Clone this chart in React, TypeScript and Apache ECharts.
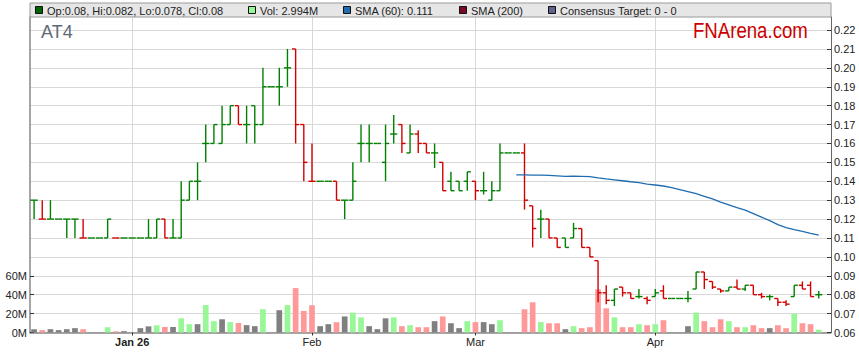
import React, { useEffect, useRef } from "react";
import * as echarts from "echarts";

// ---- calendar (weekdays shown on the axis) ----
const decDays = [16, 17, 18, 19, 22, 23, 24, 25, 26, 29, 30, 31];
const janDays = [1, 2, 5, 6, 7, 8, 9, 12, 13, 14, 15, 16, 19, 20, 21, 22, 23, 26, 27, 28, 29, 30];
const febDays = [2, 3, 4, 5, 6, 9, 10, 11, 12, 13, 16, 17, 18, 19, 20, 23, 24, 25, 26, 27];
const marDays = [2, 3, 4, 5, 6, 9, 10, 11, 12, 13, 16, 17, 18, 19, 20, 23, 24, 25, 26, 27, 30, 31];
const aprDays = [1, 2, 3, 6, 7, 8, 9, 10, 13, 14, 15, 16, 17, 20, 21, 22, 23, 24, 27, 28, 29];

// ---- OHLC ----
const opens = [
  0.13, 0.12, 0.12, 0.12, 0.12, 0.12, 0.11, 0.11, 0.11, 0.11,
  0.11, 0.11, 0.11, 0.11, 0.11, 0.11, 0.12, 0.11, 0.11, 0.13,
  0.14, 0.16, 0.16, 0.16, 0.17, 0.18, 0.17, 0.18, 0.17, 0.19,
  0.19, 0.20, 0.21, 0.17, 0.14, 0.14, 0.14, 0.14, 0.13, 0.13,
  0.16, 0.16, 0.16, 0.15, 0.165, 0.17, 0.155, 0.165, 0.16, 0.155,
  0.15, 0.14, 0.14, 0.14, 0.14, 0.135, 0.13, 0.135, 0.155, 0.155,
  0.155, 0.127, 0.12, 0.12, 0.11, 0.11, 0.11, 0.115, 0.105, 0.098,
  0.081, 0.077, 0.084, 0.081, 0.079, 0.078, 0.079, 0.082, 0.078, 0.078,
  0.078, 0.083, 0.092, 0.087, 0.083, 0.082, 0.084, 0.083, 0.085, 0.080,
  0.079, 0.078, 0.076, 0.079, 0.085, 0.085, 0.080,
];
const highs = [
  0.13, 0.13, 0.13, 0.12, 0.12, 0.12, 0.12, 0.11, 0.11, 0.12,
  0.11, 0.11, 0.11, 0.11, 0.12, 0.12, 0.12, 0.12, 0.14, 0.14,
  0.15, 0.17, 0.17, 0.18, 0.18, 0.18, 0.18, 0.18, 0.20, 0.19,
  0.20, 0.21, 0.21, 0.17, 0.16, 0.14, 0.14, 0.14, 0.13, 0.15,
  0.17, 0.17, 0.16, 0.17, 0.175, 0.17, 0.17, 0.167, 0.16, 0.16,
  0.15, 0.145, 0.14, 0.145, 0.14, 0.145, 0.14, 0.16, 0.155, 0.155,
  0.16, 0.127, 0.125, 0.12, 0.11, 0.11, 0.118, 0.115, 0.105, 0.098,
  0.085, 0.083, 0.084, 0.081, 0.083, 0.079, 0.083, 0.085, 0.078, 0.078,
  0.082, 0.092, 0.092, 0.087, 0.083, 0.084, 0.088, 0.085, 0.085, 0.081,
  0.080, 0.078, 0.077, 0.085, 0.087, 0.087, 0.082,
];
const lows = [
  0.12, 0.12, 0.12, 0.12, 0.11, 0.11, 0.11, 0.11, 0.11, 0.11,
  0.11, 0.11, 0.11, 0.11, 0.11, 0.11, 0.11, 0.11, 0.11, 0.13,
  0.13, 0.15, 0.16, 0.16, 0.17, 0.17, 0.16, 0.16, 0.17, 0.19,
  0.18, 0.19, 0.16, 0.14, 0.14, 0.14, 0.14, 0.13, 0.12, 0.13,
  0.15, 0.15, 0.16, 0.14, 0.16, 0.155, 0.155, 0.155, 0.155, 0.147,
  0.135, 0.135, 0.135, 0.135, 0.13, 0.133, 0.13, 0.135, 0.155, 0.155,
  0.125, 0.105, 0.11, 0.11, 0.105, 0.105, 0.11, 0.105, 0.10, 0.076,
  0.075, 0.074, 0.079, 0.078, 0.078, 0.075, 0.079, 0.078, 0.078, 0.078,
  0.076, 0.083, 0.083, 0.083, 0.081, 0.082, 0.083, 0.082, 0.080, 0.078,
  0.077, 0.074, 0.074, 0.079, 0.083, 0.079, 0.078,
];
const closes = [
  0.13, 0.12, 0.12, 0.12, 0.12, 0.12, 0.11, 0.11, 0.11, 0.12,
  0.11, 0.11, 0.11, 0.11, 0.11, 0.12, 0.11, 0.11, 0.13, 0.14,
  0.14, 0.16, 0.17, 0.17, 0.18, 0.17, 0.17, 0.17, 0.19, 0.19,
  0.19, 0.20, 0.17, 0.15, 0.14, 0.14, 0.14, 0.13, 0.13, 0.14,
  0.16, 0.16, 0.16, 0.16, 0.165, 0.16, 0.165, 0.16, 0.155, 0.155,
  0.135, 0.135, 0.135, 0.145, 0.135, 0.135, 0.135, 0.155, 0.155, 0.155,
  0.13, 0.115, 0.12, 0.11, 0.105, 0.105, 0.115, 0.105, 0.10, 0.081,
  0.077, 0.083, 0.081, 0.078, 0.079, 0.077, 0.081, 0.078, 0.078, 0.078,
  0.078, 0.092, 0.088, 0.084, 0.082, 0.084, 0.083, 0.085, 0.080, 0.079,
  0.079, 0.076, 0.075, 0.085, 0.083, 0.079, 0.080,
];
// volume in millions of shares
const volumes = [
  3.5, 2.5, 3.5, 2.5, 3.5, 4.6, 3.5, 0, 0, 5.6,
  1.2, 1.4, 0, 4.6, 6.5, 7.6, 5.8, 5.8, 15, 8.8,
  8.8, 29, 12, 14, 11, 10, 7.8, 6.7, 24.7, 0,
  23.6, 29, 47, 22.8, 28.8, 6.7, 8.8, 10.9, 17, 21,
  16, 6.7, 3.5, 15, 16, 6.7, 7.7, 5.6, 5.6, 12,
  17, 9.8, 4.6, 12, 11, 11, 8.8, 13, 0, 0,
  24.6, 32, 11, 9.8, 9.8, 3.5, 6.7, 4.6, 5.6, 45.6,
  25.6, 16, 5.6, 5.6, 8.8, 7.7, 8.8, 13, 0, 0,
  6.7, 21, 12, 5.6, 14, 12, 5.6, 5.6, 7.7, 4.6,
  4.6, 7.7, 4.6, 20, 9.8, 8.8, 2.994,
];

const priceTicks = [0.06, 0.07, 0.08, 0.09, 0.1, 0.11, 0.12, 0.13, 0.14, 0.15, 0.16, 0.17, 0.18, 0.19, 0.2, 0.21, 0.22];
const volumeTicks = [0, 20, 40, 60];
const monthNames: Record<string, string> = { "01": "Jan", "02": "Feb", "03": "Mar", "04": "Apr", "12": "Dec" };
const smaPeriod = 60;
const ticker = "AT4";

const pad = (d: number) => (d < 10 ? "0" + d : "" + d);
const dates = [
  ...decDays.map((d) => "2025-12-" + pad(d)),
  ...janDays.map((d) => "2026-01-" + pad(d)),
  ...febDays.map((d) => "2026-02-" + pad(d)),
  ...marDays.map((d) => "2026-03-" + pad(d)),
  ...aprDays.map((d) => "2026-04-" + pad(d)),
];
const categories = [...dates, ""]; // one empty slot at the right edge

const GREEN = "#008000";
const RED = "#d40000";
const FONT = "Liberation Sans, Arial, sans-serif";

export default function App() {
  const ref = useRef<HTMLDivElement>(null);

  useEffect(() => {
    if (!ref.current) return;
    const chart = echarts.init(ref.current, null, { renderer: "svg" });

    const dirs = closes.map((c, i) => (i === 0 ? 0 : c < closes[i - 1] ? -1 : c > closes[i - 1] ? 1 : 0));
    const ohlc = dates.map((_, i) => [i, opens[i], closes[i], lows[i], highs[i], dirs[i]]);
    const sma = closes.map((_, i) => {
      if (i < smaPeriod - 1) return null;
      let s = 0;
      for (let k = i - smaPeriod + 1; k <= i; k++) s += closes[k];
      return s / smaPeriod;
    });
    const volData = volumes.map((v, i) => ({
      value: v,
      itemStyle: { color: dirs[i] > 0 ? "#98f898" : dirs[i] < 0 ? "#ff9999" : "#808080" },
    }));

    const last = dates.length - 1;
    const isMonthStart = (index: number) =>
      index > 0 && index < dates.length && dates[index].slice(0, 7) !== dates[index - 1].slice(0, 7);

    const legendItems = [
      { color: "#006400", text: `Op:${opens[last]}, Hi:${highs[last]}, Lo:${lows[last]}, Cl:${closes[last]}`, x: 35 },
      { color: "#98f898", text: `Vol: ${volumes[last]}M`, x: 248 },
      { color: "#1f6db0", text: `SMA (60): ${(sma[last] as number).toFixed(3)}`, x: 343 },
      { color: "#7a0a28", text: "SMA (200)", x: 459 },
      { color: "#62628e", text: "Consensus Target: 0 - 0", x: 548 },
    ];

    const graphic: any[] = [
      {
        type: "rect",
        shape: { x: 30, y: 3, width: 801, height: 14 },
        style: { fill: "#e6e6e6", stroke: "#9a9a9a", lineWidth: 1 },
        z: 10,
      },
    ];
    legendItems.forEach((it) => {
      graphic.push({
        type: "rect",
        shape: { x: it.x + 0.5, y: 6.5, width: 7, height: 7 },
        style: { fill: it.color, stroke: "#111", lineWidth: 1 },
        z: 11,
      });
      graphic.push({
        type: "text",
        x: it.x + 12,
        y: 10.5,
        style: { text: it.text, fill: "#222", font: `11px ${FONT}`, verticalAlign: "middle", textVerticalAlign: "middle" },
        z: 11,
      });
    });
    graphic.push({
      type: "text",
      x: 41,
      y: 32,
      style: { text: ticker, fill: "#5f6a78", font: `18px ${FONT}`, verticalAlign: "middle", textVerticalAlign: "middle" },
      z: 11,
    });
    graphic.push({
      type: "text",
      x: 693,
      y: 41,
      scaleX: 0.81,
      style: { text: "FNArena.com", fill: "#cc0000", font: `23px ${FONT}`, verticalAlign: "bottom", textVerticalAlign: "bottom" },
      z: 11,
    });

    chart.setOption({
      animation: false,
      backgroundColor: "#ffffff",
      textStyle: { fontFamily: FONT },
      grid: { left: 30, right: 28, top: 17, bottom: 30.5, containLabel: false },
      xAxis: {
        type: "category",
        data: categories,
        boundaryGap: true,
        axisLine: { lineStyle: { color: "#888", width: 1.5 } },
        axisTick: { show: true, alignWithLabel: true, interval: (i: number) => isMonthStart(i), length: 3, lineStyle: { color: "#333" } },
        axisLabel: {
          interval: (i: number) => isMonthStart(i),
          color: "#222",
          fontSize: 11,
          margin: 4,
          formatter: (v: string) => {
            const m = v.slice(5, 7);
            return m === "01" ? `{b|Jan ${v.slice(2, 4)}}` : monthNames[m];
          },
          rich: { b: { fontWeight: "bold", fontSize: 11, color: "#222" } },
        },
        splitLine: { show: true, interval: (i: number) => isMonthStart(i), alignWithLabel: true, lineStyle: { color: "#d8d8d8", width: 1 } },
      } as any,
      yAxis: [
        {
          type: "value",
          position: "right",
          min: 0.06,
          max: 0.2269,
          interval: 0.01,
          axisLine: { show: true, lineStyle: { color: "#666", width: 1 } },
          axisTick: { show: true, inside: true, length: 4, lineStyle: { color: "#333" }, customValues: priceTicks },
          axisLabel: {
            color: "#222",
            fontSize: 11,
            margin: 3,
            customValues: priceTicks,
            formatter: (v: number) => (v > 0.2205 ? "" : v.toFixed(2)),
          },
          splitLine: { show: true, lineStyle: { color: "#d8d8d8", width: 1 } },
        } as any,
        {
          type: "value",
          position: "left",
          min: 0,
          max: 333.8,
          interval: 20,
          axisLine: { show: true, lineStyle: { color: "#888", width: 1.5 } },
          axisTick: { show: true, inside: true, length: 4, lineStyle: { color: "#333" }, customValues: volumeTicks },
          axisLabel: {
            color: "#222",
            fontSize: 11,
            margin: 3,
            customValues: volumeTicks,
            formatter: (v: number) => (v > 60.5 ? "" : `${v}M`),
          },
          splitLine: { show: false },
        } as any,
      ],
      series: [
        {
          type: "bar",
          name: "Vol",
          yAxisIndex: 1,
          barWidth: 5.7,
          data: volData,
          z: 2,
        },
        {
          type: "custom",
          name: "OHLC",
          yAxisIndex: 0,
          encode: { x: 0, y: [1, 2, 3, 4] },
          data: ohlc,
          z: 3,
          renderItem: (_params: any, api: any) => {
            const i = api.value(0);
            const o = api.coord([i, api.value(1)]);
            const c = api.coord([i, api.value(2)]);
            const l = api.coord([i, api.value(3)]);
            const h = api.coord([i, api.value(4)]);
            const color = api.value(5) < 0 ? RED : GREEN;
            const x = o[0];
            const t = 3.6;
            const style = { stroke: color, lineWidth: 1.4 };
            return {
              type: "group",
              children: [
                { type: "line", shape: { x1: x, y1: h[1], x2: x, y2: l[1] }, style },
                { type: "line", shape: { x1: x - t, y1: o[1], x2: x, y2: o[1] }, style },
                { type: "line", shape: { x1: x, y1: c[1], x2: x + t, y2: c[1] }, style },
              ],
            };
          },
        },
        {
          type: "line",
          name: "SMA (60)",
          yAxisIndex: 0,
          data: sma,
          showSymbol: false,
          symbol: "none",
          lineStyle: { color: "#1f6db0", width: 1.3 },
          z: 4,
        },
      ],
      graphic,
    });

    return () => chart.dispose();
  }, []);

  return <div ref={ref} style={{ width: 859, height: 363, position: "absolute", left: 0, top: 0 }} />;
}
